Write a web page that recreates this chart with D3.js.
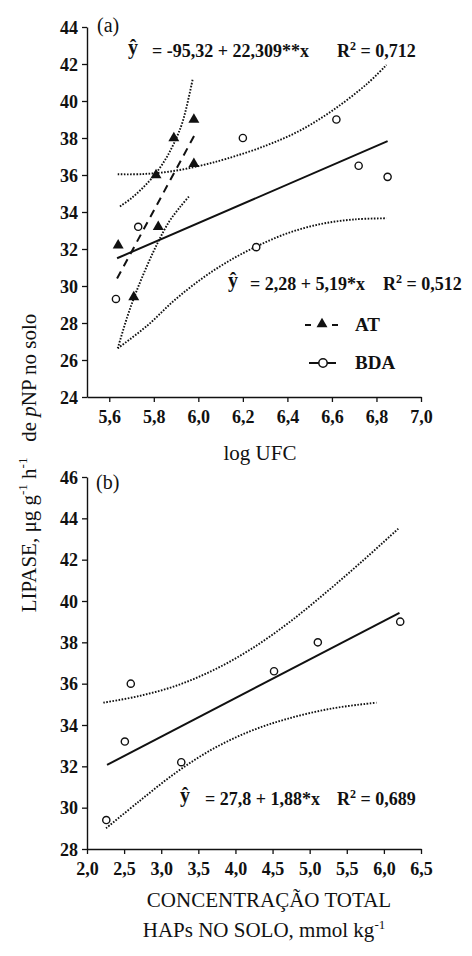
<!DOCTYPE html>
<html><head><meta charset="utf-8">
<script src="https://cdn.jsdelivr.net/npm/d3@7"></script>
<style>
html,body{margin:0;padding:0;background:#fff;}
svg{display:block;}
text{font-family:"Liberation Serif","Times New Roman",serif;fill:#111;}
</style></head>
<body>
<script>
// ---------- Panel (a) data : log UFC ----------
const atX  = [5.64, 5.71, 5.82, 5.81, 5.89, 5.98, 5.98];
const atY  = [32.2, 29.4, 33.2, 36.0, 38.0, 39.0, 36.6];
const bdaX = [5.63, 5.73, 6.20, 6.26, 6.62, 6.72, 6.85];
const bdaY = [29.3, 33.2, 38.0, 32.1, 39.0, 36.5, 35.9];
// fitted lines (end points)
const atFitX  = [5.635, 5.985];
const atFitY  = [30.4, 38.2];
const bdaFitX = [5.635, 6.85];
const bdaFitY = [31.5, 37.83];
// confidence bands (dotted)
const atUpX  = [5.648, 5.70, 5.75, 5.80, 5.85, 5.89, 5.93, 5.975];
const atUpY  = [34.3, 34.75, 35.3, 35.95, 36.8, 37.7, 38.9, 41.2];
const atLoX  = [5.638, 5.68, 5.72, 5.77, 5.82, 5.87, 5.92, 5.962];
const atLoY  = [26.63, 28.3, 29.65, 31.1, 32.4, 33.5, 34.3, 34.9];
const bdaUpX = [5.638, 5.75, 5.88, 6.007, 6.127, 6.306, 6.456, 6.604, 6.755, 6.845];
const bdaUpY = [36.04, 36.05, 36.2, 36.5, 36.88, 37.6, 38.4, 39.5, 40.9, 41.95];
const bdaLoX = [5.638, 5.77, 5.89, 6.01, 6.13, 6.258, 6.4, 6.55, 6.7, 6.845];
const bdaLoY = [26.63, 27.85, 29.2, 30.35, 31.3, 32.12, 32.85, 33.35, 33.6, 33.66];
const aYTicks = [24, 26, 28, 30, 32, 34, 36, 38, 40, 42, 44];
const aXTicks = [5.6, 5.8, 6.0, 6.2, 6.4, 6.6, 6.8, 7.0];

// ---------- Panel (b) data : HAPs ----------
const hapX = [2.26, 2.51, 2.59, 3.27, 4.52, 5.11, 6.22];
const hapY = [29.4, 33.2, 36.0, 32.2, 36.6, 38.0, 39.0];
const hapFitX = [2.27, 6.21];
const hapFitY = [32.07, 39.43];
const hapUpX = [2.22, 2.7, 3.2, 3.7, 4.2, 4.7, 5.2, 5.7, 6.21];
const hapUpY = [35.08, 35.4, 35.9, 36.65, 37.65, 38.9, 40.35, 41.9, 43.55];
const hapLoX = [2.256, 2.7, 3.2, 3.7, 4.2, 4.7, 5.3, 5.9];
const hapLoY = [29.0, 30.3, 31.7, 32.85, 33.7, 34.3, 34.8, 35.08];
const bYTicks = [28, 30, 32, 34, 36, 38, 40, 42, 44, 46];
const bXTicks = [2.0, 2.5, 3.0, 3.5, 4.0, 4.5, 5.0, 5.5, 6.0, 6.5];

const W = 472, H = 956;
const svg = d3.select("body").append("svg").attr("width", W).attr("height", H);
const comma = v => d3.format(".1f")(v).replace(".", ",");
const zip = (xs, ys) => xs.map((x, i) => [x, ys[i]]);

function axes(x, y, xTicks, yTicks, xFmt) {
  const gx = svg.append("g").attr("transform", `translate(0,${y.range()[0]})`)
    .call(d3.axisBottom(x).tickValues(xTicks).tickFormat(xFmt).tickSize(5).tickSizeOuter(0).tickPadding(8));
  const gy = svg.append("g").attr("transform", `translate(${x.range()[0]},0)`)
    .call(d3.axisLeft(y).tickValues(yTicks).tickFormat(d3.format("d")).tickSize(5).tickSizeOuter(0).tickPadding(4));
  [gx, gy].forEach(g => {
    g.attr("font-family", null);
    g.select(".domain").attr("stroke", "#111").attr("stroke-width", 1.4);
    g.selectAll(".tick line").attr("stroke", "#111").attr("stroke-width", 1.3);
    g.selectAll("text").attr("font-weight", "bold").attr("font-size", 18).attr("fill", "#111");
  });
  gy.selectAll("text").attr("dy", "0.34em");
  gx.selectAll("text").attr("dy", "0.71em");
}

function line(x, y, xs, ys, opts) {
  const gen = d3.line().x(d => x(d[0])).y(d => y(d[1]));
  if (opts.curve) gen.curve(d3.curveCatmullRom.alpha(0.5));
  svg.append("path").attr("d", gen(zip(xs, ys))).attr("fill", "none")
    .attr("stroke", "#111").attr("stroke-width", opts.w)
    .attr("stroke-dasharray", opts.dash || null);
}
const DOT = {w: 1.9, dash: "1.6 1.5", curve: true};

function triangles(x, y, xs, ys) {
  svg.append("g").selectAll("path").data(zip(xs, ys)).join("path")
    .attr("d", d3.symbol(d3.symbolTriangle, 52)())
    .attr("transform", d => `translate(${x(d[0])},${y(d[1])})`)
    .attr("fill", "#111");
}
function circles(x, y, xs, ys) {
  svg.append("g").selectAll("circle").data(zip(xs, ys)).join("circle")
    .attr("cx", d => x(d[0])).attr("cy", d => y(d[1])).attr("r", 3.6)
    .attr("fill", "#fff").attr("stroke", "#111").attr("stroke-width", 1.4);
}

function equation(yhatX, eqX, rX, base, eqTxt, r2Txt) {
  const g = svg.append("g").attr("font-weight", "bold").attr("font-size", 18);
  g.append("text").attr("x", yhatX).attr("y", base - 3).attr("text-anchor", "middle")
    .attr("font-size", 20).text("ŷ");
  g.append("text").attr("x", eqX).attr("y", base).text(eqTxt);
  const t = g.append("text").attr("x", rX).attr("y", base);
  t.append("tspan").text("R");
  t.append("tspan").attr("font-size", 12).attr("dy", -7).text("2");
  t.append("tspan").attr("dy", 7).text(" = " + r2Txt);
}

// ================= Panel (a) =================
const xa = d3.scaleLinear().domain([5.5, 7.0]).range([87, 421]);
const ya = d3.scaleLinear().domain([24, 44]).range([397, 27]);
axes(xa, ya, aXTicks, aYTicks, comma);

line(xa, ya, atUpX, atUpY, DOT);
line(xa, ya, atLoX, atLoY, DOT);
line(xa, ya, bdaUpX, bdaUpY, DOT);
line(xa, ya, bdaLoX, bdaLoY, DOT);
line(xa, ya, bdaFitX, bdaFitY, {w: 2});
line(xa, ya, atFitX, atFitY, {w: 2, dash: "8 6"});
triangles(xa, ya, atX, atY);
circles(xa, ya, bdaX, bdaY);

svg.append("text").attr("x", 97).attr("y", 32).attr("font-size", 20).text("(a)");
equation(133, 152, 337, 57, "= -95,32 + 22,309**x", "0,712");
equation(233, 250, 383, 290, "= 2,28 + 5,19*x", "0,512");

// legend
const lg = svg.append("g");
lg.append("line").attr("x1", 305).attr("x2", 311).attr("y1", 325).attr("y2", 325).attr("stroke", "#111").attr("stroke-width", 2);
lg.append("line").attr("x1", 332).attr("x2", 338).attr("y1", 325).attr("y2", 325).attr("stroke", "#111").attr("stroke-width", 2);
lg.append("path").attr("d", d3.symbol(d3.symbolTriangle, 52)()).attr("transform", "translate(322,324)").attr("fill", "#111");
lg.append("text").attr("x", 355).attr("y", 331).attr("font-weight", "bold").attr("font-size", 19).text("AT");
lg.append("line").attr("x1", 309).attr("x2", 336).attr("y1", 363).attr("y2", 363).attr("stroke", "#111").attr("stroke-width", 2);
lg.append("circle").attr("cx", 323).attr("cy", 363).attr("r", 4.2).attr("fill", "#fff").attr("stroke", "#111").attr("stroke-width", 1.5);
lg.append("text").attr("x", 355).attr("y", 369).attr("font-weight", "bold").attr("font-size", 19).text("BDA");

svg.append("text").attr("x", 260).attr("y", 460).attr("text-anchor", "middle").attr("font-size", 21).text("log UFC");

// ================= Panel (b) =================
const xb = d3.scaleLinear().domain([2.0, 6.5]).range([87, 421]);
const yb = d3.scaleLinear().domain([28, 46]).range([849, 477]);
axes(xb, yb, bXTicks, bYTicks, comma);

line(xb, yb, hapUpX, hapUpY, DOT);
line(xb, yb, hapLoX, hapLoY, DOT);
line(xb, yb, hapFitX, hapFitY, {w: 2});
circles(xb, yb, hapX, hapY);

svg.append("text").attr("x", 96).attr("y", 489).attr("font-size", 20).text("(b)");
equation(185, 205, 337, 805, "= 27,8 + 1,88*x", "0,689");

svg.append("text").attr("x", 269).attr("y", 907).attr("text-anchor", "middle").attr("font-size", 21).text("CONCENTRAÇÃO TOTAL");
const t2 = svg.append("text").attr("x", 264).attr("y", 937).attr("text-anchor", "middle").attr("font-size", 21);
t2.append("tspan").text("HAPs NO SOLO, mmol kg");
t2.append("tspan").attr("font-size", 13).attr("dy", -8).text("-1");

// shared y title
const yt = svg.append("text").attr("transform", "translate(36,463) rotate(-90)")
  .attr("text-anchor", "middle").attr("font-size", 21).style("white-space", "pre");
yt.append("tspan").text("LIPASE, μg g");
yt.append("tspan").attr("font-size", 13).attr("dy", -9).text("-1");
yt.append("tspan").attr("dy", 9).text(" h");
yt.append("tspan").attr("font-size", 13).attr("dy", -9).text("-1");
yt.append("tspan").attr("dy", 9).text("   de ");
yt.append("tspan").attr("font-style", "italic").text("p");
yt.append("tspan").text("NP no solo");
</script>
</body></html>
